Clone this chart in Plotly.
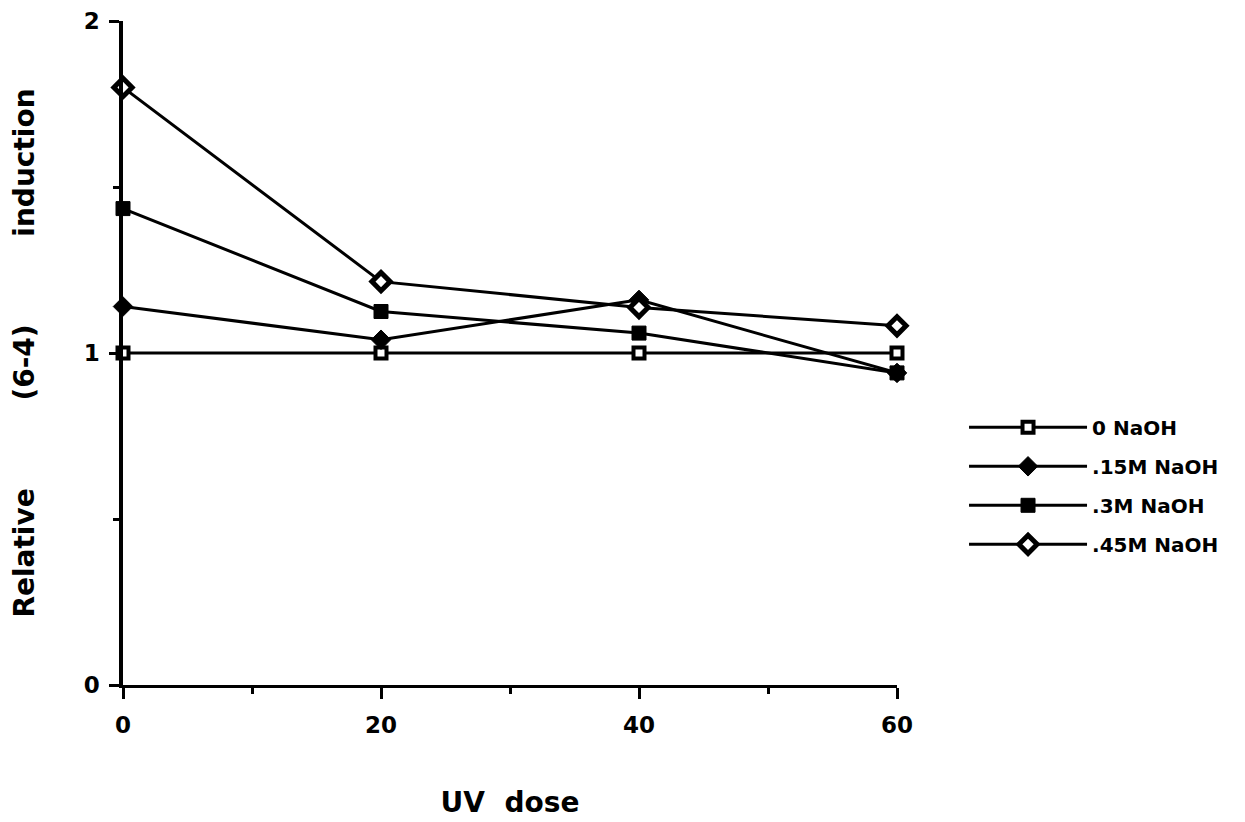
import plotly.graph_objects as go

uv_dose = [0, 20, 40, 60]
series_names = ["0 NaOH", ".15M NaOH", ".3M NaOH", ".45M NaOH"]
naoh_0 = [1.0, 1.0, 1.0, 1.0]
naoh_015 = [1.14, 1.04, 1.16, 0.94]
naoh_03 = [1.435, 1.125, 1.06, 0.94]
naoh_045 = [1.8, 1.215, 1.137, 1.082]

x_major = [0, 20, 40, 60]
x_minor = [10, 30, 50]
y_major = [0, 1, 2]
y_minor = [0.5, 1.5]

styles = [
    dict(symbol="square", color="white", size=11, line=dict(color="black", width=4)),
    dict(symbol="diamond", color="black", size=15, line=dict(color="black", width=1)),
    dict(symbol="square", color="black", size=14, line=dict(color="black", width=1)),
    dict(symbol="diamond", color="white", size=14, line=dict(color="black", width=5)),
]

fig = go.Figure()
for i, (name, ys) in enumerate(zip(series_names, [naoh_0, naoh_015, naoh_03, naoh_045])):
    fig.add_trace(go.Scatter(
        x=uv_dose, y=ys, name=name, mode="lines+markers",
        line=dict(color="black", width=3),
        marker=styles[i], cliponaxis=False, legendgroup=f"g{i}",
    ))

FONT = "DejaVu Sans, Verdana, sans-serif"
sp = "\u00a0" * 9
fig.update_layout(
    width=1245, height=822,
    plot_bgcolor="white", paper_bgcolor="white",
    margin=dict(l=115, r=356, t=13, b=145),
    font=dict(family=FONT, color="black"),
    showlegend=True,
    legend=dict(x=1.0866, y=0.30, xanchor="left", yanchor="middle",
                font=dict(size=20, weight="bold", family=FONT), tracegroupgap=10,
                traceorder="grouped", itemwidth=118, bgcolor="rgba(0,0,0,0)"),
    xaxis=dict(range=[0, 60], tickvals=x_major, automargin=False,
               showgrid=False, zeroline=False, showline=True, linecolor="black",
               linewidth=3, ticks="outside", ticklen=11, tickwidth=2.5, tickcolor="black",
               ticklabelstandoff=6,
               minor=dict(tickvals=x_minor, ticklen=6, tickwidth=2.5, tickcolor="black",
                          ticks="outside", showgrid=False),
               tickfont=dict(size=23, weight="bold", family=FONT),
               title=dict(text="UV\u00a0\u00a0dose", font=dict(size=28, weight="bold", family=FONT),
                          standoff=56)),
    yaxis=dict(range=[0, 2], tickvals=y_major, automargin=False,
               showgrid=False, zeroline=False, showline=True, linecolor="black",
               linewidth=3.5, ticks="outside", ticklen=10, tickwidth=2.5, tickcolor="black",
               ticklabelstandoff=5,
               minor=dict(tickvals=y_minor, ticklen=6, tickwidth=2.5, tickcolor="black",
                          ticks="outside", showgrid=False),
               tickfont=dict(size=23, weight="bold", family=FONT),
               title=dict(text="Relative" + sp + "(6-4)" + sp + "induction",
                          font=dict(size=28, weight="bold", family=FONT), standoff=58)),
)

fig.write_html("out.html")
